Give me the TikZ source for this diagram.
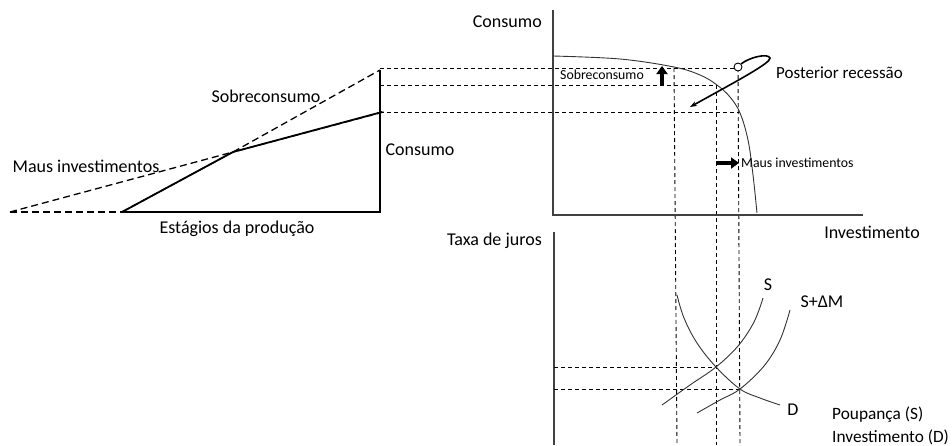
\documentclass[tikz,border=0pt]{standalone}
\usepackage{fontspec}
\setmainfont{Carlito}
\usetikzlibrary{arrows.meta}
\begin{document}
\begin{tikzpicture}[x=1pt,y=-1pt,
  lbl/.style={font=\fontsize{18}{20}\selectfont, inner sep=0pt},
  small/.style={font=\fontsize{13.8}{15}\selectfont, inner sep=0pt},
  axis/.style={draw=black!75, line width=1.3pt},
  thick line/.style={line width=1.8pt},
  dash line/.style={dashed, line width=1.3pt, dash pattern=on 7pt off 4pt},
  grid dash/.style={dashed, line width=0.9pt, dash pattern=on 4pt off 3pt},
  curve/.style={line width=0.9pt, draw=black!80},
  fat arrow/.style={-{Triangle[length=8pt,width=11pt]}, line width=3.2pt}]
\useasboundingbox (0,0) rectangle (952,445);

% ---------- left diagram coordinates
\coordinate (L0) at (10,212);
\coordinate (B0) at (122,212);
\coordinate (B1) at (380,212);
\coordinate (Bd) at (355,212);
\coordinate (K) at (233,152);
\coordinate (C) at (382,112);
\coordinate (Cd) at (387,111);
\coordinate (T) at (380,70);

% ---------- right upper chart coordinates
\coordinate (A1top) at (553,10);
\coordinate (A1o) at (553,215);
\coordinate (A1x) at (863,215);
\coordinate (H1) at (380,68);
\coordinate (H2) at (380,85);
\coordinate (H3) at (380,112);
\coordinate (P1) at (674,68);
\coordinate (P2) at (716,85);
\coordinate (P3) at (738,68);
\coordinate (P3b) at (740,112);
\coordinate (V1) at (677,445);
\coordinate (V2) at (716,445);
\coordinate (V3) at (740,445);

% ---------- right lower chart coordinates
\coordinate (A2top) at (554,232);
\coordinate (A2bot) at (554,445);
\coordinate (E1) at (716,367);
\coordinate (E2) at (740,389);
\coordinate (G1) at (554,367);
\coordinate (G2) at (554,389);

% ---------- left diagram
\draw[thick line] (B0) -- (B1) -- (T);
\draw[thick line] (B0) -- (K) -- (C);
\draw[dash line] (L0) -- (Bd);
\draw[dash line] (L0) -- (K) -- (T);
\draw[dash line] (B0) -- (K) -- (Cd);

\node[lbl] (sobre) at (266,96) {Sobreconsumo};
\node[lbl] (maus) at (86,166) {Maus investimentos};
\node[lbl] (cons) at (420,150) {Consumo};
\node[lbl] (estag) at (237,229) {Estágios da produção};

% ---------- connecting dashed lines
\draw[grid dash] (H1) -- (P3);
\draw[grid dash] (H2) -- (P2);
\draw[grid dash] (H3) -- (P3b);
\draw[grid dash] (P1) -- (V1);
\draw[grid dash] (P2) -- (V2);
\draw[grid dash] (P3) -- (V3);

% ---------- upper chart
\draw[axis] (A1top) -- (A1o) -- (A1x);
\node[lbl, anchor=east] (consumo) at (542,22) {Consumo};
\node[lbl] (invest) at (872,232) {Investimento};
\draw[curve] plot[smooth, tension=0.6] coordinates {(553,56) (620,59) (674,67) (700,75) (717,85) (730,97) (740,113) (748,140) (753,175) (757,213)};

\node[small] (sobre2) at (602,75) {Sobreconsumo};
\coordinate (ua0) at (662,85);
\coordinate (ua1) at (662,66);
\draw[fat arrow] (ua0) -- (ua1);

\node[small, anchor=west] (maus2) at (741,163) {Maus investimentos};
\coordinate (ra0) at (716,163);
\coordinate (ra1) at (739,163);
\draw[fat arrow] (ra0) -- (ra1);

\node[draw, circle, fill=white, line width=0.9pt, minimum size=8pt, inner sep=0pt] (circ) at (738,67) {};
\coordinate (rec) at (690,107);
\draw[line width=1.6pt, -{Stealth[length=7pt,width=5pt]}] (circ.north east) .. controls (750,57) and (768,53) .. (770,58) .. controls (771,63) and (735,82) .. (rec);
\node[font=\fontsize{17}{19}\selectfont, inner sep=0pt, anchor=west] (post) at (776,73) {Posterior recessão};

% ---------- lower chart
\draw[axis] (A2top) -- (A2bot);
\node[lbl, anchor=east] (taxa) at (542,241) {Taxa de juros};
\draw[grid dash] (G1) -- (E1);
\draw[grid dash] (G2) -- (E2);

\draw[curve] plot[smooth, tension=0.6] coordinates {(677,295) (684,318) (697,343) (716,367) (740,389) (760,398) (780,405)};
\draw[curve] plot[smooth, tension=0.6] coordinates {(662,405) (690,385) (716,367) (738,346) (754,322) (763,298)};
\draw[curve] plot[smooth, tension=0.6] coordinates {(697,413) (720,400) (740,389) (764,366) (780,340) (790,310)};

\node[lbl] (S) at (768,285) {S};
\node[lbl] (SM) at (822,302) {S+ΔM};
\node[lbl] (D) at (793,410) {D};
\node[lbl, anchor=west, font=\fontsize{17.3}{19}\selectfont] (poup) at (832,415) {Poupança (S)};
\node[lbl, anchor=west, font=\fontsize{17.3}{19}\selectfont] (invD) at (832,437) {Investimento (D)};
\end{tikzpicture}
\end{document}
